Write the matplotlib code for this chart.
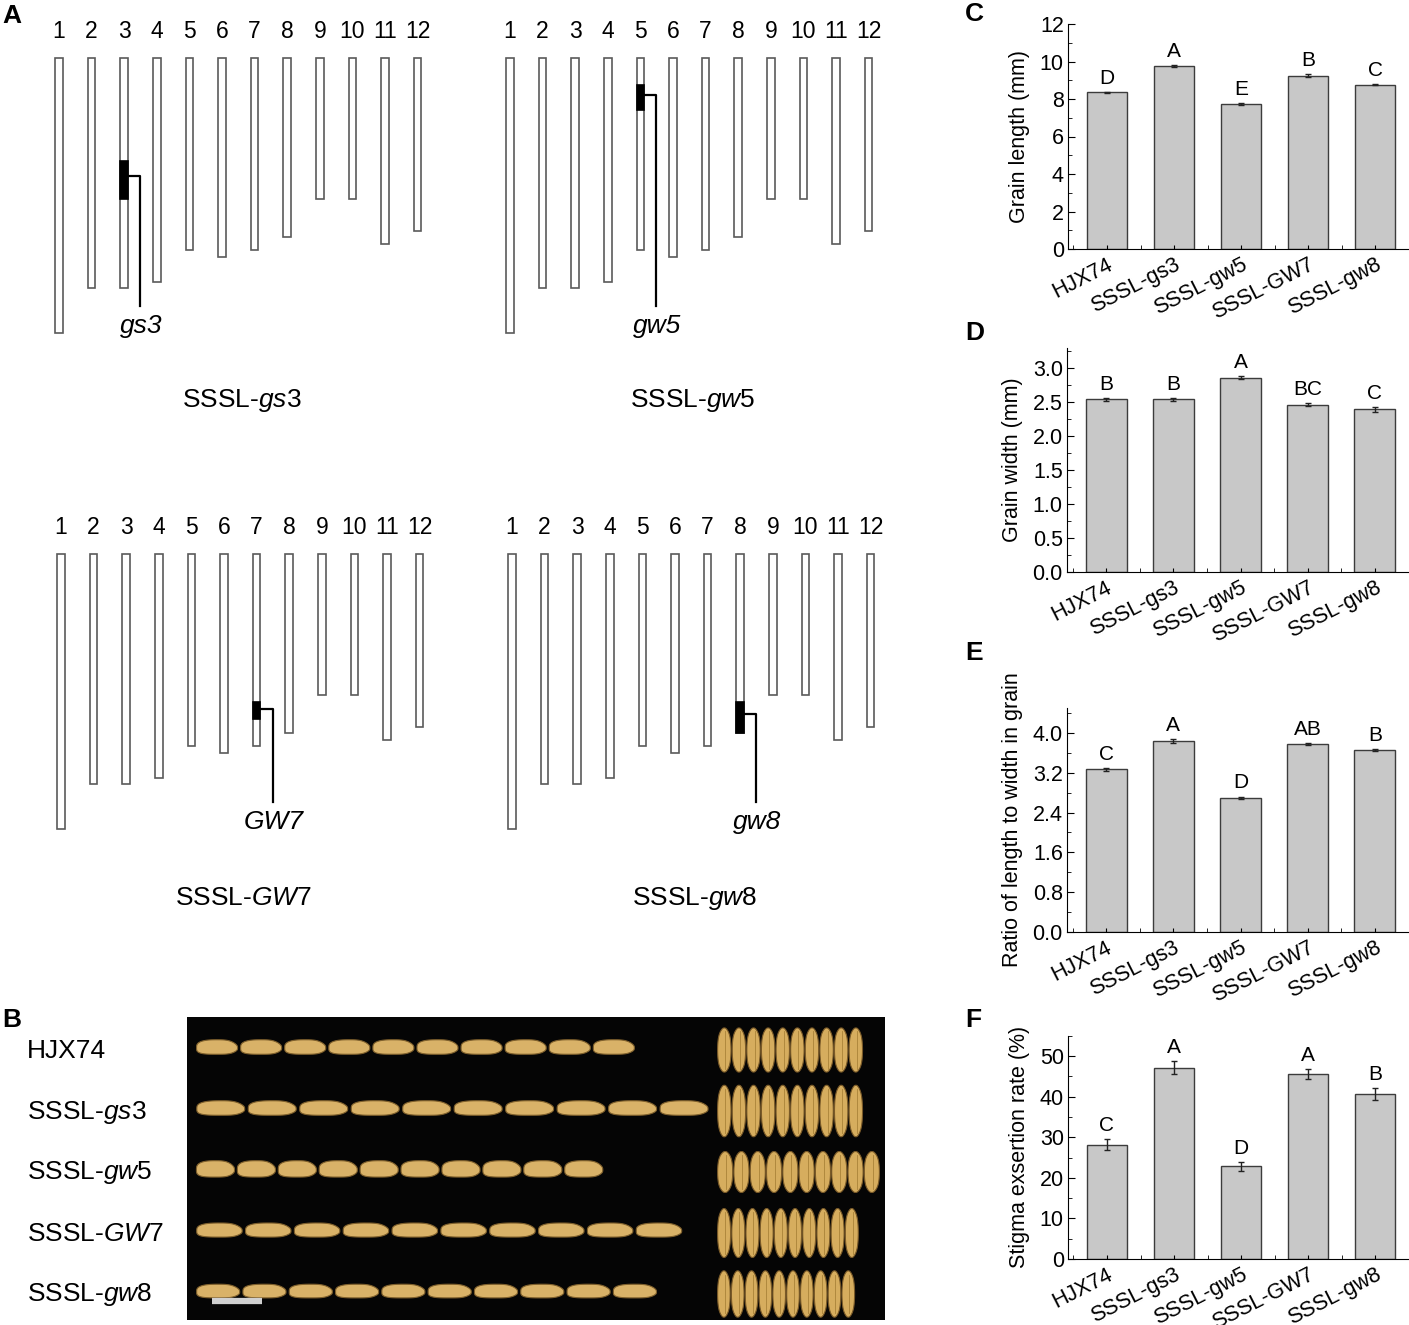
import numpy as np
import matplotlib
matplotlib.use("Agg")
import matplotlib.pyplot as plt
import matplotlib.transforms as mtransforms
from matplotlib.patches import Rectangle, Polygon
from matplotlib.ticker import MultipleLocator, FixedLocator

plt.rcParams['font.family'] = ['Liberation Sans', 'DejaVu Sans']
plt.rcParams['mathtext.fontset'] = 'custom'
plt.rcParams['mathtext.rm'] = 'Liberation Sans'
plt.rcParams['mathtext.it'] = 'Liberation Sans:italic'

# ---- data ----
lines = ['HJX74', 'SSSL-gs3', 'SSSL-gw5', 'SSSL-GW7', 'SSSL-gw8']

chrom_names = [str(i) for i in range(1, 13)]
chrom_mb = [43.2, 36.2, 36.2, 35.2, 30.2, 31.3, 30.2, 28.1, 22.2, 22.2, 29.2, 27.2]

genes = ['gs3', 'gw5', 'GW7', 'gw8']
gene_chrom = [3, 5, 7, 8]
gene_start = [16.2, 4.2, 23.3, 23.3]   # Mb
gene_end = [22.2, 8.1, 25.9, 28.1]

grain_length = [8.35, 9.75, 7.75, 9.25, 8.77]
grain_length_err = [0.04, 0.04, 0.05, 0.06, 0.04]
length_letters = ['D', 'A', 'E', 'B', 'C']

grain_width = [2.54, 2.54, 2.86, 2.46, 2.39]
grain_width_err = [0.02, 0.02, 0.02, 0.02, 0.03]
width_letters = ['B', 'B', 'A', 'BC', 'C']

ratio = [3.27, 3.83, 2.70, 3.77, 3.66]
ratio_err = [0.03, 0.04, 0.02, 0.02, 0.02]
ratio_letters = ['C', 'A', 'D', 'AB', 'B']

stigma = [28.2, 47.1, 22.8, 45.6, 40.6]
stigma_err = [1.3, 1.6, 1.1, 1.15, 1.45]
stigma_letters = ['C', 'A', 'D', 'A', 'B']

grains_per_row = 10

W, H = 1409, 1325
fig = plt.figure(figsize=(W / 100, H / 100), dpi=100)
fig.patch.set_facecolor('white')

# overlay in pixel coords for panels A and B
ax0 = fig.add_axes([0, 0, 1, 1])
ax0.set_xlim(0, W)
ax0.set_ylim(H, 0)
ax0.axis('off')


def label_text(name):
    if name.startswith('SSSL-'):
        return 'SSSL-$\\mathit{' + name[5:] + '}$'
    return name


# ---- panel A ----
px_mb = 6.36
step = 32.6
origins = [(59, 58), (510, 58), (61, 554), (512, 554)]
for k, (x0, top) in enumerate(origins):
    for i, (nm, mb) in enumerate(zip(chrom_names, chrom_mb)):
        cx = x0 + i * step
        ax0.text(cx, top - 26, nm, ha='center', va='center', fontsize=16.5)
        ax0.add_patch(Rectangle((cx - 3.8, top), 7.6, mb * px_mb, facecolor='white',
                                edgecolor='#5a5a5a', lw=1.2))
    ci = gene_chrom[k] - 1
    cx = x0 + ci * step
    y1 = top + gene_start[k] * px_mb
    y2 = top + gene_end[k] * px_mb
    ax0.add_patch(Rectangle((cx - 3.8, y1), 7.6, y2 - y1, facecolor='black',
                            edgecolor='black', lw=1.2))
    yl = y1 + 0.4 * (y2 - y1)
    xl = cx + 16
    ax0.plot([cx + 3.8, xl, xl], [yl, yl, top + 248], color='black', lw=1.6)
    ax0.text(xl + 1, top + 268, genes[k], ha='center', va='center', fontsize=19,
             style='italic')
    ax0.text(x0 + 183, top + 342 + 2 * (k // 2), label_text('SSSL-' + genes[k]),
             ha='center', va='center', fontsize=19)

# ---- panel B ----
ax0.add_patch(Rectangle((187, 1017), 698, 303, facecolor='#050505', edgecolor='none'))
px_mm = 5.28


def side_grain(x, y, L, Hh):
    t = np.linspace(0, 2 * np.pi, 100)
    c, s = np.cos(t), np.sin(t)
    xs = np.sign(c) * np.abs(c) ** 0.6
    ys = np.sign(s) * np.abs(s) ** 0.6
    # narrower toward the right (beak), fuller hump on top left
    ys = ys * (1 - 0.35 * np.clip(xs, 0, 1) ** 4)
    ys = np.where(ys > 0, ys * (1 + 0.12 * (1 - xs ** 2)), ys * 0.85)
    return np.column_stack([x + xs * L / 2, y - ys * Hh / 2])


def front_grain(x, y, Wd, L):
    t = np.linspace(0, 2 * np.pi, 100)
    c, s = np.cos(t), np.sin(t)
    xs = np.sign(c) * np.abs(c) ** 0.7
    ys = s
    xs = xs * (1 - 0.35 * np.abs(ys) ** 6)
    return np.column_stack([x + xs * Wd / 2, y - ys * L / 2])


for r, (gl, gw) in enumerate(zip(grain_length, grain_width)):
    yc = 1048 + 61 * r
    lab = label_text(lines[r])
    ax0.text(27, yc + 3, lab, ha='left', va='center', fontsize=19)
    sp = gl * px_mm
    for g in range(grains_per_row):
        xc = 195 + sp * (g + 0.5)
        ax0.add_patch(Polygon(side_grain(xc, yc, sp * 0.93, gw * px_mm * 1.1),
                              closed=True, facecolor='#d9b268', edgecolor='#7f602c', lw=0.8))
    spv = gw * px_mm + 1.2
    for g in range(grains_per_row):
        xc = 717 + spv * (g + 0.5)
        ax0.add_patch(Polygon(front_grain(xc, yc + 2, gw * px_mm, gl * px_mm),
                              closed=True, facecolor='#d6ad5e', edgecolor='#7a5a28', lw=0.8))
        ax0.plot([xc + 1, xc + 1], [yc + 2 - gl * px_mm * 0.42, yc + 2 + gl * px_mm * 0.42],
                 color='#a98238', lw=0.6)
ax0.plot([212, 262], [1301, 1301], color='#d0d0d0', lw=4.5, solid_capstyle='butt')

# panel letters
for let, (x, y) in zip('ABCDEF', [(2, 16), (2, 1020), (965, 14), (965, 333),
                                  (965, 653), (965, 1020)]):
    ax0.text(x, y, let, ha='left', va='center', fontsize=19, fontweight='bold')


# ---- bar panels ----
def bar_panel(l, b, t, vals, errs, letters, ylabel, ymax, major, minor, fmt):
    r = W
    ax = fig.add_axes([l / W, 1 - b / H, (r - l) / W, (b - t) / H])
    x = np.arange(len(lines))
    ax.bar(x, vals, width=0.61, color='#c8c8c8', edgecolor='#3c3c3c', lw=1.0,
           yerr=errs, capsize=2.5,
           error_kw=dict(elinewidth=1.0, capthick=1.0, ecolor='#222222'))
    for xi, v, e, let in zip(x, vals, errs, letters):
        ax.annotate(let, (xi, v + e), xytext=(0, 3), textcoords='offset points',
                    ha='center', va='bottom', fontsize=15)
    ax.set_xlim(-0.582, 4.507)
    ax.set_ylim(0, ymax)
    ax.spines['top'].set_visible(False)
    ax.spines['right'].set_visible(False)
    ax.yaxis.set_major_locator(MultipleLocator(major))
    ax.yaxis.set_minor_locator(MultipleLocator(minor))
    ax.yaxis.set_major_formatter(plt.FuncFormatter(lambda v, p: fmt.format(v)))
    ax.set_xticks(x)
    ax.xaxis.set_minor_locator(FixedLocator(np.arange(-0.5, 4.6, 1.0)))
    ax.set_xticklabels(lines, rotation=27, ha='right', va='top', rotation_mode='anchor')
    off = mtransforms.ScaledTranslation(0.10, 0, fig.dpi_scale_trans)
    for lb in ax.get_xticklabels():
        lb.set_transform(lb.get_transform() + off)
    ax.tick_params(axis='both', which='both', direction='in', labelsize=15.5)
    ax.tick_params(axis='y', which='major', length=5, pad=3)
    ax.tick_params(axis='y', which='minor', length=3)
    ax.tick_params(axis='x', which='both', length=3, pad=4)
    ax.set_ylabel(ylabel, fontsize=15.5, labelpad=7)
    return ax


bar_panel(1068, 249, 24, grain_length, grain_length_err, length_letters,
          'Grain length (mm)', 12, 2, 1, '{:.0f}')
bar_panel(1067, 572, 347.6, grain_width, grain_width_err, width_letters,
          'Grain width (mm)', 3.3, 0.5, 0.25, '{:.1f}')
bar_panel(1067, 932, 708, ratio, ratio_err, ratio_letters,
          'Ratio of length to width in grain', 4.5, 0.8, 0.4, '{:.1f}')
bar_panel(1068, 1259, 1035.7, stigma, stigma_err, stigma_letters,
          'Stigma exsertion rate (%)', 55, 10, 5, '{:.0f}')

fig.savefig('out.png', dpi=100, facecolor='white')
